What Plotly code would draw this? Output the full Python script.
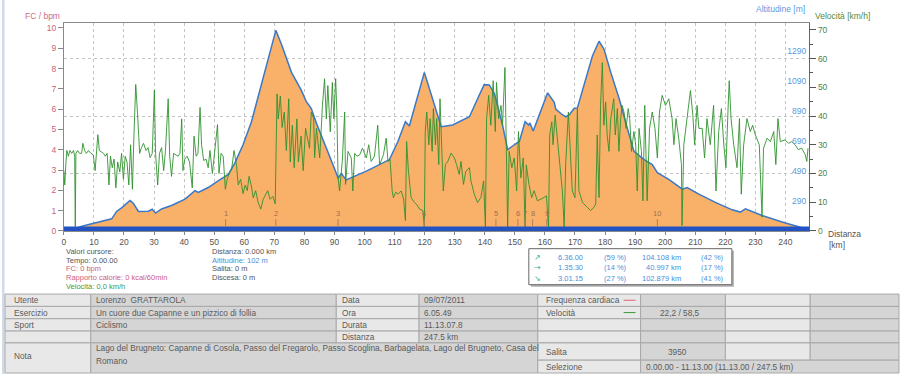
import plotly.graph_objects as go

W, H = 900, 379
def PX(x): return x / W
def PY(y): return 1 - y / H

# ---------------- data ----------------
dist_alt = [0, 3.8, 6.0, 10.4, 15.9, 17.6, 19.2, 22.0, 23.1, 24.8, 28.1, 29.4, 30.5, 32.5, 35.8,
            40.3, 43.6, 44.7, 48.0, 51.3, 54.7, 56.9, 59.6, 62.4, 65.7, 68.5, 70.5, 72.4, 75.7,
            79.0, 80.6, 82.3, 84.0, 87.3, 91.2, 92.3, 93.9, 100.6, 108.3, 111.1, 113.6, 114.9,
            117.7, 119.9, 122.1, 125.5, 129.3, 134.9, 137.6, 139.8, 141.5, 143.2, 145.9, 147.6,
            149.8, 151.5, 153.4, 154.6, 155.0, 156.1, 158.1, 160.9, 163.1, 163.6, 165.3, 166.9,
            168.0, 169.7, 170.8, 173.0, 175.8, 178.0, 179.7, 181.9, 184.7, 187.4, 189.6, 193.0,
            195.7, 197.4, 201.2, 205.7, 207.3, 211.2, 216.7, 222.3, 225.0, 226.7, 232.2, 238.9,
            244.4, 247.5]
alt_m = [102, 104, 121, 143, 171, 222, 244, 293, 275, 220, 222, 235, 209, 237, 260,
         303, 359, 347, 380, 424, 468, 545, 666, 820, 1062, 1282, 1431, 1336, 1150,
         1029, 956, 908, 809, 644, 446, 473, 431, 490, 567, 688, 820, 791,
         996, 1150, 1007, 787, 798, 853, 974, 1068, 1066, 1007, 798, 633,
         666, 688, 820, 798, 812, 758, 864, 1013, 950, 905, 875, 853,
         864, 908, 912, 1062, 1259, 1358, 1303, 1150, 974, 776, 622, 567,
         534, 479, 435, 369, 380, 336, 281, 231, 216, 237, 193, 150,
         117, 100]

dist_spd = [0.0, 0.3, 0.7, 1.0, 1.5, 2.0, 2.6, 3.2, 3.6, 3.8, 4.0, 4.6, 5.2, 5.9, 6.3, 6.9, 7.5, 8.2,
            9.0, 9.8, 10.4, 10.8, 11.3, 11.8, 12.4, 13.2, 13.8, 14.4, 15.0, 15.5, 16.1, 16.7, 17.3,
            17.9, 18.6, 19.2, 19.8, 20.4, 21.0, 21.6, 22.2, 22.8, 23.3, 23.9, 24.5, 25.2, 25.8, 26.5,
            27.3, 28.0, 28.7, 29.4, 30.1, 30.5, 31.2, 31.8, 32.5, 33.2, 33.8, 34.7, 35.2, 35.8, 36.5,
            37.2, 38.0, 38.6, 39.2, 39.6, 40.2, 41.0, 41.8, 42.7, 43.3, 44.0, 44.6, 45.3, 45.8, 46.5,
            47.3, 48.0, 48.6, 49.4, 50.2, 51.1, 51.6, 52.3, 53.0, 53.7, 54.3, 55.0, 55.8, 56.6, 57.4,
            58.0, 58.8, 59.6, 60.3, 61.0, 61.6, 62.3, 63.0, 63.8, 64.6, 65.5, 66.3, 67.0, 67.8, 68.6,
            69.5, 70.3, 70.9, 71.3, 72.0, 72.6, 73.3, 74.0, 74.8, 75.3, 76.0, 76.6, 77.5, 78.0, 78.9,
            79.6, 80.4, 81.7, 82.3, 83.1, 83.4, 84.0, 85.1, 86.0, 86.7, 87.3, 87.8, 88.6, 89.3, 89.8,
            90.4, 90.8, 91.2, 91.7, 92.6, 93.4, 93.7, 94.5, 95.6, 96.1, 96.7, 97.5, 98.4, 99.3, 100.6,
            101.4, 102.2, 103.3, 104.4, 105.0, 106.3, 107.2, 107.8, 108.5, 109.2, 109.6, 110.4, 111.1,
            112.2, 113.0, 113.6, 114.0, 114.6, 115.5, 116.6, 117.5, 118.3, 119.4, 119.9, 120.2, 120.7,
            121.4, 121.8, 122.5, 122.9, 123.6, 124.0, 124.7, 125.1, 125.8, 126.2, 126.9, 127.7, 128.8,
            129.9, 130.6, 131.5, 132.1, 132.9, 133.7, 134.9, 135.4, 136.5, 137.6, 138.7, 139.6, 140.2,
            140.6, 141.3, 142.0, 142.8, 143.5, 143.9, 144.6, 145.4, 145.9, 146.7, 147.0, 147.6, 148.1,
            149.0, 149.8, 150.6, 151.2, 152.0, 152.8, 153.4, 153.8, 154.7, 155.6, 156.4, 157.5, 158.6,
            159.7, 160.5, 161.2, 161.6, 162.3, 162.7, 163.4, 163.6, 164.7, 165.8, 166.4, 166.9, 167.8,
            168.6, 169.1, 170.0, 170.8, 171.3, 172.5, 174.1, 175.2, 176.3, 176.9, 177.4, 178.0, 178.5,
            179.1, 179.6, 180.2, 180.7, 181.3, 181.9, 182.4, 182.9, 183.4, 184.1, 184.6, 185.2, 185.7,
            186.3, 187.0, 187.7, 188.2, 188.8, 189.6, 190.2, 190.7, 191.3, 192.1, 192.6, 193.2, 194.0,
            194.8, 195.7, 196.6, 197.4, 198.1, 199.0, 200.1, 201.2, 202.3, 202.9, 203.6, 204.5, 205.4,
            205.6, 206.2, 207.3, 208.4, 209.2, 209.8, 210.6, 211.2, 212.3, 213.1, 213.9, 215.0, 216.1,
            216.9, 217.8, 218.7, 219.5, 220.2, 221.0, 221.3, 221.9, 222.8, 223.9, 224.7, 225.3, 226.1,
            227.2, 228.3, 229.1, 230.0, 231.3, 232.2, 232.7, 233.9, 235.0, 236.1, 236.8, 237.5, 238.3,
            239.9, 241.0, 242.1, 243.2, 244.3, 245.4, 246.6, 247.1, 247.5]
speed = [21, 16, 24, 28, 26, 28, 27, 28, 26, 1.5, 27, 28, 27, 27, 30.5, 28, 27, 28,
         27, 26.5, 21, 28, 33.5, 28, 27.5, 27, 26, 27, 16, 26, 22, 25, 15,
         24, 20.5, 27, 18, 26, 24, 16, 30, 14.5, 33, 51, 41, 27, 29, 30.5,
         28, 29, 25.5, 27, 49, 27, 16, 27, 29, 21, 28, 46, 26, 19, 27,
         26.5, 26, 27, 39, 21, 25, 26, 24, 15, 33, 26, 27, 43, 30, 24.5,
         25, 22, 28, 20, 27, 37, 20, 27, 26, 14.5, 18, 20, 21.5, 28, 23,
         16, 18, 13, 16, 14, 19, 16, 11.5, 14, 10, 7.6, 11, 12.5, 14, 11,
         12, 9.4, 47.7, 39, 47, 36, 41.4, 28, 46, 24, 36.8, 22, 39, 24, 33,
         21, 35.7, 28.8, 41.4, 39, 25.5, 35.7, 25.4, 43.7, 53, 39, 50.6, 34.5, 51.7, 39,
         53, 41.4, 18.5, 13.9, 24.2, 41.4, 16.2, 27.7, 25.4, 13.9, 27, 26, 26.5, 28.8, 25.4,
         30, 24.2, 26, 36.8, 23, 26.5, 32.3, 24.2, 24.8, 13.9, 11.6, 13.5, 12.8,
         13.9, 11.1, 3.6, 31.1, 20.8, 11.6, 9.9, 9, 7.6, 7.1, 1.3, 34.6, 41.4,
         30, 39.1, 27.7, 42.6, 30, 39.1, 23.1, 46, 25.4, 13.9, 23.1, 24.2, 27.1,
         25.4, 23.1, 19.7, 24.2, 16.2, 20.8, 22, 17.4, 12.8, 9.9, 11.6, 17.4, 1.3,
         39.1, 47.2, 36.8, 52.3, 34.6, 51.7, 39.1, 43.7, 36.8, 56.9, 39.1, 1.3, 27.7,
         22, 25.4, 13.9, 34.6, 18.5, 25.4, 1.3, 23, 16.2, 11.6, 14, 10.5, 11,
         11.6, 12.2, 1.3, 33.4, 38, 30, 40.3, 38, 25.4, 13.9, 1.3, 23, 41.4,
         25.4, 13.9, 11.6, 42.6, 14, 9.9, 8.2, 7.1, 8.2, 9.4, 33.4, 11.6, 43.7,
         58.6, 36.8, 44.9, 33.4, 27.7, 39.1, 43.7, 46, 33.4, 42.6, 27.7, 39.1, 43.7,
         41.4, 35.7, 42.6, 39.1, 27.7, 34.6, 30, 13.9, 35.7, 27.7, 10.5, 43.7, 10.5,
         35.7, 41.4, 35.7, 25.4, 41.4, 47.2, 43.7, 46, 39.1, 30, 39.1, 32.3, 23.1,
         1.9, 30, 39.1, 48.9, 40.3, 30, 43.7, 35.7, 35.7, 25.4, 39.1, 30, 43.7,
         13.9, 34.6, 42.6, 30, 22, 44.9, 52.3, 39.1, 30, 22, 39.1, 12.8, 30,
         39.1, 34.6, 36.8, 33.4, 30, 4.8, 28.8, 32.3, 31.1, 34.6, 23.1, 39.1, 31.1,
         31.7, 30.5, 31.1, 30, 28.3, 28.8, 26.5, 24.2, 28.8]

waypoint_km = [53.8, 70.5, 91.2, 119.9, 143.7, 151.0, 153.4, 155.9, 160.6, 197.4]
waypoint_lbl = ["1", "2", "3", "4", "5", "6", "7", "8", "9", "10"]

x_ticks = list(range(0, 241, 10))
fc_ticks = list(range(0, 11))
alt_ticks = [290, 490, 690, 890, 1090, 1290]
spd_grid = [20, 40, 60]

X_RANGE = [0, 247.9]
FC_RANGE = [0, 10.26]
ALT_RANGE = [90, 1482]
SPD_RANGE = [0, 72.5]

FONT = "Liberation Sans, Arial, sans-serif"
GRID = "#c4c4c4"

fig = go.Figure()
fig.add_trace(go.Scatter(x=[None], y=[None], yaxis="y", showlegend=False, hoverinfo="skip"))
fig.add_trace(go.Scatter(x=dist_alt, y=alt_m, yaxis="y2", mode="lines",
                         line=dict(color="#3a78c8", width=1.5),
                         fill="tozeroy", fillcolor="#f9b069", showlegend=False, hoverinfo="skip"))
fig.add_trace(go.Scatter(x=dist_spd, y=speed, yaxis="y3", mode="lines",
                         line=dict(color="#2f922f", width=0.9), showlegend=False, hoverinfo="skip"))
fig.add_trace(go.Scatter(x=[None], y=[None], yaxis="y4", showlegend=False, hoverinfo="skip"))

dom_x = [PX(62), PX(809)]
dom_y = [PY(234), PY(23)]

fig.update_layout(
    width=W, height=H, margin=dict(l=0, r=0, t=0, b=0),
    paper_bgcolor="white", plot_bgcolor="white", showlegend=False,
    font=dict(family=FONT, size=8.5, color="#555"),
    xaxis=dict(domain=dom_x, range=X_RANGE, tickvals=x_ticks, ticks="outside", ticklen=3,
               tickcolor="#888", showline=True, linecolor="#8a8a8a", mirror=True,
               showgrid=True, gridcolor=GRID, griddash="dot", gridwidth=1, zeroline=False,
               tickfont=dict(size=8.5, color="#555"), anchor="y"),
    yaxis=dict(domain=dom_y, range=FC_RANGE, tickvals=fc_ticks, ticks="outside", ticklen=5,
               tickcolor="#888", showline=True, linecolor="#8a8a8a", showgrid=False,
               zeroline=False, tickfont=dict(size=8.5, color="#c8647a")),
    yaxis2=dict(overlaying="y", side="right", anchor="free", position=dom_x[1], range=ALT_RANGE,
                tickvals=alt_ticks, ticks="", ticklabelposition="inside", showgrid=False,
                showline=False, zeroline=False, tickfont=dict(size=8.5, color="#5a9be0")),
    yaxis3=dict(overlaying="y", side="right", anchor="x", range=SPD_RANGE, tickmode="linear",
                tick0=0, dtick=10, ticks="outside", ticklen=6, tickcolor="#555",
                minor=dict(dtick=5, tick0=0, ticks="outside", ticklen=3, tickcolor="#555"),
                showline=True, linecolor="#666", showgrid=False, zeroline=False,
                tickfont=dict(size=8.5, color="#4f7f4f")),
    yaxis4=dict(overlaying="y", side="right", anchor="x", range=SPD_RANGE, tickvals=spd_grid,
                showticklabels=False, ticks="", showgrid=True, gridcolor=GRID, griddash="dot",
                showline=False, zeroline=False),
)

shapes = []
ann = []

def text(x, y, s, color="#555", size=8.5, xanchor="left", xref="paper"):
    ann.append(dict(x=x, y=y, xref=xref, yref="paper", text=s, showarrow=False,
                    xanchor=xanchor, yanchor="middle", font=dict(size=size, color=color, family=FONT)))

# left window border
shapes.append(dict(type="rect", xref="paper", yref="paper", x0=0, x1=PX(2.5), y0=0, y1=1,
                   fillcolor="#cfdbe8", line=dict(width=0)))

# blue band at bottom of plot
shapes.append(dict(type="rect", xref="x domain", yref="paper", x0=0, x1=1, y0=PY(234), y1=PY(229.5),
                   fillcolor="#2352c2", line=dict(width=0), layer="above"))

# waypoint markers
for km, lbl in zip(waypoint_km, waypoint_lbl):
    shapes.append(dict(type="line", xref="x", yref="paper", x0=km, x1=km, y0=PY(229.5), y1=PY(222),
                       line=dict(color="#b08060", width=1)))
    text(km, PY(216), lbl, color="#a07050", size=7.5, xanchor="center", xref="x")

# axis titles
text(PX(21), PY(16), "FC / bpm", color="#d06a80")
text(PX(807), PY(9.5), "Altitudine [m]", color="#5a9be0", xanchor="right")
text(PX(813), PY(16), "Velocità [km/h]", color="#4f8a3f")
text(PX(826), PY(237), "Distanza", color="#555")
text(PX(827), PY(248), "[km]", color="#555")

# cursor block
rows_y = [255, 263.7, 272.5, 281.2, 290]
for (s, c), yy in zip([("Valori cursore:", "#555"), ("Tempo: 0.00.00", "#555"),
                       ("FC: 0 bpm", "#d0607a"), ("Rapporto calorie: 0 kcal/60min", "#d0607a"),
                       ("Velocità: 0,0 km/h", "#3f9a3f")], rows_y):
    text(PX(62), PY(yy), s, color=c, size=7.5)
for (s, c), yy in zip([("Distanza: 0.000 km", "#555"), ("Altitudine: 102 m", "#4a8fdc"),
                       ("Salita: 0 m", "#555"), ("Discesa: 0 m", "#555")], rows_y):
    text(PX(208), PY(yy), s, color=c, size=7.5)

# stats box
shapes.append(dict(type="rect", xref="paper", yref="paper", x0=PX(530), x1=PX(733.5), y0=PY(290.5), y1=PY(254),
                   fillcolor="#b0b0b0", line=dict(width=0)))
shapes.append(dict(type="rect", xref="paper", yref="paper", x0=PX(528), x1=PX(731.5), y0=PY(288.5), y1=PY(252),
                   fillcolor="white", line=dict(color="#666", width=1)))
stat_rows = [("↗", "6.36.00", "(59 %)", "104.108 km", "(42 %)"),
             ("→", "1.35.30", "(14 %)", "40.997 km", "(17 %)"),
             ("↘", "3.01.15", "(27 %)", "102.879 km", "(41 %)")]
for (ic, t, p1, d, p2), yy in zip(stat_rows, [260.5, 271.2, 282]):
    ann.append(dict(x=PX(537), y=PY(yy), xref="paper", yref="paper", text=ic, showarrow=False,
                    xanchor="center", yanchor="middle", font=dict(size=8, color="#30b89a", family="DejaVu Sans")))
    text(PX(584), PY(yy), t, color="#4a8fdc", size=7.5, xanchor="right")
    text(PX(614.5), PY(yy), p1, color="#4a8fdc", size=7.5, xanchor="center")
    text(PX(683), PY(yy), d, color="#4a8fdc", size=7.5, xanchor="right")
    text(PX(712), PY(yy), p2, color="#4a8fdc", size=7.5, xanchor="center")

# table
LIGHT, DARK, BORDER = "#e8e8e8", "#d5d5d5", "#a8a8a8"
cols = [3, 89, 335, 418, 537, 640, 725, 810, 899]
rws = [298, 310.5, 323, 335.5, 347.5, 365, 378]

def cell(x0, x1, y0, y1, fill):
    shapes.append(dict(type="rect", xref="paper", yref="paper", x0=PX(x0), x1=PX(x1), y0=PY(y1), y1=PY(y0),
                       fillcolor=fill, line=dict(color=BORDER, width=1)))

fills = [LIGHT, DARK, LIGHT, DARK, LIGHT, DARK, LIGHT, DARK]
for r in range(4):
    for c in range(8):
        cell(cols[c], cols[c + 1], rws[r], rws[r + 1], fills[c])
# note row(s)
cell(cols[0], cols[1], rws[4], rws[6], LIGHT)
cell(cols[1], cols[4], rws[4], rws[6], DARK)
for c in range(4, 8):
    cell(cols[c], cols[c + 1], rws[4], rws[5], fills[c])
cell(cols[4], cols[5], rws[5], rws[6], LIGHT)
cell(cols[5], cols[8], rws[5], rws[6], DARK)

tc = "#5a5a5a"
ts = 8.3
def rowc(r): return PY((rws[r] + rws[r + 1]) / 2)
table_rows = [
    ("Utente", "Lorenzo  GRATTAROLA", "Data", "09/07/2011", "Frequenza cardiaca"),
    ("Esercizio", "Un cuore due Capanne e un pizzico di follia", "Ora", "6.05.49", "Velocità"),
    ("Sport", "Ciclismo", "Durata", "11.13.07.8", ""),
    ("", "", "Distanza", "247.5 km", ""),
]
for r, (a, b, c3, d, e) in enumerate(table_rows):
    text(PX(10), rowc(r), a, color=tc, size=ts)
    text(PX(92), rowc(r), b, color=tc, size=ts)
    text(PX(339), rowc(r), c3, color=tc, size=ts)
    text(PX(421), rowc(r), d, color=tc, size=ts)
    text(PX(543), rowc(r), e, color=tc, size=ts)
shapes.append(dict(type="line", xref="paper", yref="paper", x0=PX(623), x1=PX(635), y0=rowc(0), y1=rowc(0),
                   line=dict(color="#e06070", width=1)))
shapes.append(dict(type="line", xref="paper", yref="paper", x0=PX(623), x1=PX(635), y0=rowc(1), y1=rowc(1),
                   line=dict(color="#3a9a3a", width=1)))
text(PX(680), rowc(1), "22,2 / 58,5", color=tc, size=ts, xanchor="center")
text(PX(10), PY(361), "Nota", color=tc, size=ts)
text(PX(92), PY(353), "Lago del Brugneto: Capanne di Cosola, Passo del Fregarolo, Passo Scoglina, Barbagelata, Lago del Brugneto, Casa del",
     color=tc, size=ts)
text(PX(92), PY(365.5), "Romano", color=tc, size=ts)
text(PX(543), rowc(4), "Salita", color=tc, size=ts)
text(PX(677), rowc(4), "3950", color=tc, size=ts, xanchor="center")
text(PX(543), rowc(5), "Selezione", color=tc, size=ts)
text(PX(643), rowc(5), "0.00.00 - 11.13.00 (11.13.00 / 247.5 km)", color=tc, size=ts)

fig.update_layout(shapes=shapes, annotations=ann)
fig.write_html(
    "out.html",
    config={"displayModeBar": False, "staticPlot": True},
    post_script=("var s=document.documentElement.style;s.margin='0';s.padding='0';s.overflow='hidden';"
                 "s.height='379px';var b=document.body.style;b.margin='0';b.padding='0';"
                 "b.overflow='hidden';b.height='379px';window.scrollTo(0,0);"),
)
